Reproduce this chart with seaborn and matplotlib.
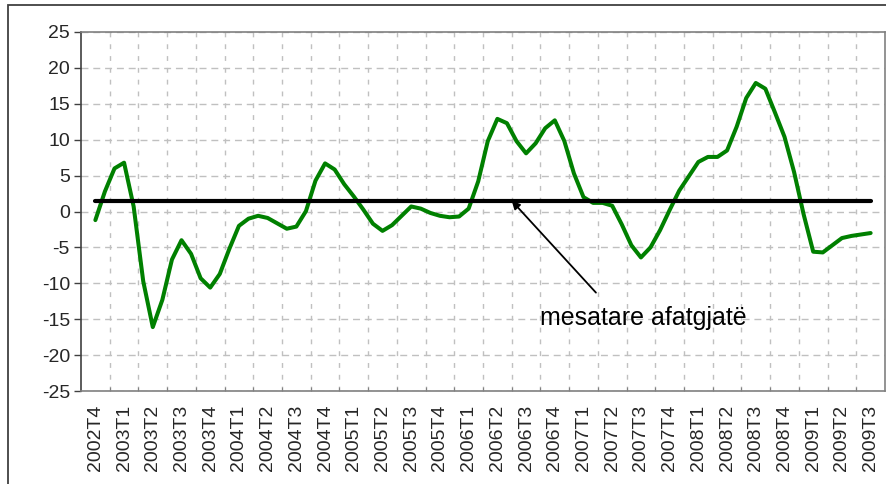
import numpy as np
import pandas as pd
import matplotlib
matplotlib.use("Agg")
import matplotlib.pyplot as plt
from matplotlib.patches import Rectangle
import seaborn as sns

# quarter labels (one label per 3 monthly points, placed on the middle month)
quarters = ["2002T4",
            "2003T1", "2003T2", "2003T3", "2003T4",
            "2004T1", "2004T2", "2004T3", "2004T4",
            "2005T1", "2005T2", "2005T3", "2005T4",
            "2006T1", "2006T2", "2006T3", "2006T4",
            "2007T1", "2007T2", "2007T3", "2007T4",
            "2008T1", "2008T2", "2008T3", "2008T4",
            "2009T1", "2009T2", "2009T3"]

# monthly values (Nov 2002 .. Aug 2009)
values = [-1.2, 2.8, 6.0, 6.8, 0.7, -9.7, -16.1, -12.3, -6.7, -4.0,
          -5.9, -9.3, -10.6, -8.7, -5.2, -2.0, -1.0, -0.6, -0.9, -1.65,
          -2.4, -2.1, 0.05, 4.3, 6.7, 5.85, 3.8, 2.1, 0.26, -1.7,
          -2.7, -1.9, -0.6, 0.7, 0.4, -0.2, -0.6, -0.8, -0.7, 0.4,
          4.2, 9.8, 12.9, 12.3, 9.8, 8.1, 9.5, 11.6, 12.7, 9.8,
          5.3, 2.0, 1.2, 1.2, 0.8, -1.8, -4.7, -6.4, -5.0, -2.6,
          0.2, 2.9, 4.9, 6.9, 7.6, 7.6, 8.5, 11.8, 15.8, 17.9,
          17.1, 13.8, 10.4, 5.5, -0.4, -5.6, -5.7, -4.7, -3.7, -3.4,
          -3.2, -3.0]
long_term_avg = 1.5
annotation_label = "mesatare afatgjatë"

df = pd.DataFrame({"m": np.arange(len(values)), "value": values})
df["avg"] = long_term_avg

sns.set_style("white")
plt.rcParams["font.family"] = ["Liberation Sans", "DejaVu Sans"]
plt.rcParams["axes.unicode_minus"] = False

fig = plt.figure(figsize=(8.87, 4.84), dpi=100)
ax = fig.add_axes([81 / 887, 1 - 391 / 484, (885 - 81) / 887, (391 - 32) / 484])

sns.lineplot(data=df, x="m", y="value", color="#008000", linewidth=2.9, ax=ax, zorder=3)
sns.lineplot(data=df, x="m", y="avg", color="black", linewidth=3.0, ax=ax, zorder=4)

ax.annotate("", xy=(43.5, long_term_avg), xytext=(52.3, -11.3),
            arrowprops=dict(arrowstyle="-|>", color="black", lw=1.3, mutation_scale=12,
                            shrinkA=0, shrinkB=0), zorder=5)
ax.text(57.3, -14.8, annotation_label, ha="center", va="center", fontsize=18, color="black")

ax.set_xlim(-1.5, len(values) + 0.5)
ax.set_ylim(-25, 25)
ax.set_yticks(np.arange(-25, 26, 5))
ax.set_xticks(np.arange(0, len(values), 3))
ax.set_xticklabels(quarters, rotation=90)
ax.set_xticks(np.arange(1.5, len(values) - 1, 3), minor=True)
ax.set_xlabel("")
ax.set_ylabel("")

ax.tick_params(axis="y", labelsize=14, length=5, width=1, color="#404040", direction="out",
               left=True, pad=3)
ax.tick_params(axis="x", which="major", labelsize=14, length=0, pad=10)
ax.tick_params(axis="x", which="minor", length=3, width=0.8, color="#808080", direction="in",
               bottom=True)

ax.grid(False)
ax.yaxis.grid(True, color="#c0c0c0", linestyle=(0, (5, 3.5)), linewidth=1.0)
ax.xaxis.grid(True, which="minor", color="#c0c0c0", linestyle=(0, (3.5, 5)), linewidth=1.0)
ax.set_axisbelow(True)

for side in ["top", "right", "bottom"]:
    ax.spines[side].set_color("#808080")
    ax.spines[side].set_linewidth(1.2)
ax.spines["left"].set_color("#404040")
ax.spines["left"].set_linewidth(1.2)

fig.add_artist(Rectangle((8 / 887, -0.05), 1.2, 1 - 5 / 484 + 0.05, transform=fig.transFigure,
                         fill=False, edgecolor="#404040", linewidth=1.3))

fig.savefig("out.png", dpi=100)
